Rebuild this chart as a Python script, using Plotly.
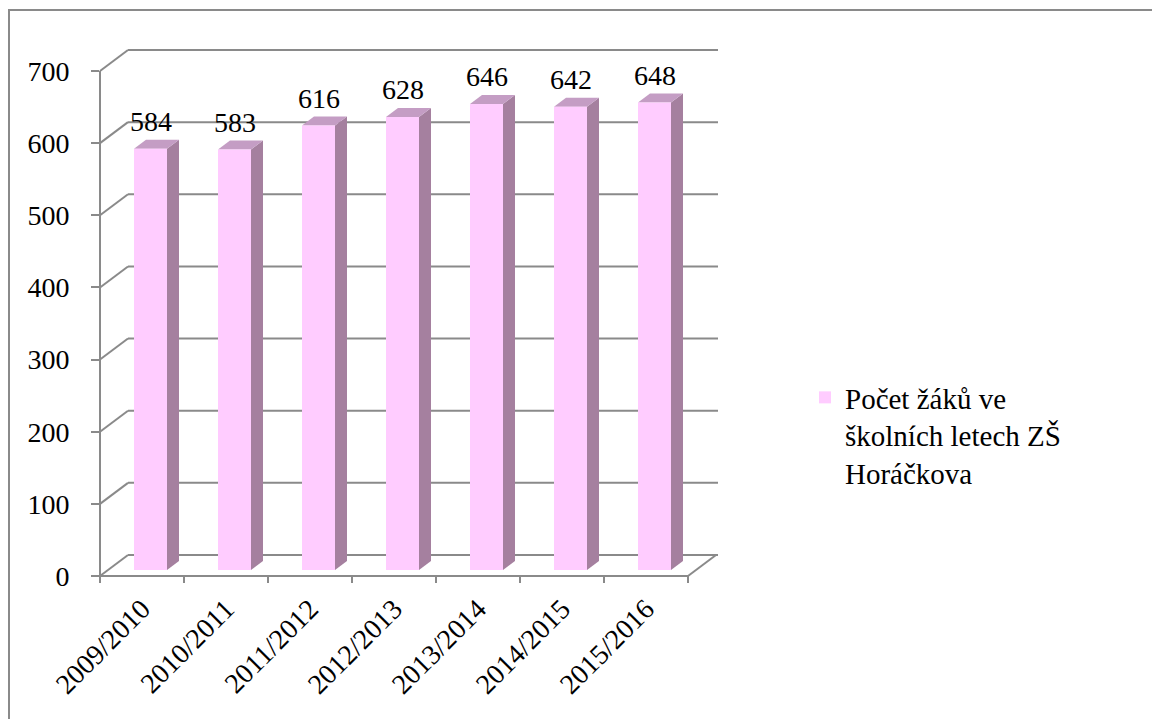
import plotly.graph_objects as go

# ---------------- data ----------------
categories = ["2009/2010", "2010/2011", "2011/2012", "2012/2013",
              "2013/2014", "2014/2015", "2015/2016"]
values = [584, 583, 616, 628, 646, 642, 648]
y_ticks = [0, 100, 200, 300, 400, 500, 600, 700]
series_name = "Počet žáků ve<br>školních letech ZŠ<br>Horáčkova"

# ---------------- geometry (pixels -> data units) ----------------
L, R, T, B = 100, 718, 50, 576          # plot area in pixels
PX_X = 84.0                              # px per category
PX_Y = 505.0 / 700.0                     # px per value unit
X_MAX = (R - L) / PX_X
Y_MAX = (B - T) / PX_Y
DEPTH_X, DEPTH_Y = 28 / PX_X, 21 / PX_Y  # depth of the 3D wall
BAR_OFF_X, BAR_OFF_Y = 8.5 / PX_X, 6 / PX_Y
BAR_W = 33 / PX_X
SIDE_X, SIDE_Y = 12 / PX_X, 9 / PX_Y
LABEL_GAP = 27 / PX_Y

GRID = "#8a8a8a"
FRONT = "#FFCCFF"
SIDE = "#A5809F"
TOP = "#C49DC4"
FONT = "Liberation Serif"

n = len(categories)
centers = [i + 0.5 for i in range(n)]
bar_x = [c + BAR_OFF_X for c in centers]


def px(xd):
    return xd / X_MAX


def py(yd):
    return yd / Y_MAX


shapes = []
line = dict(color=GRID, width=2)
# back wall gridlines + left diagonals
for t in y_ticks:
    shapes.append(dict(type="line", xref="paper", yref="paper", layer="below",
                       x0=px(DEPTH_X), y0=py(t + DEPTH_Y), x1=px(X_MAX), y1=py(t + DEPTH_Y),
                       line=line))
    shapes.append(dict(type="line", xref="paper", yref="paper", layer="below",
                       x0=px(0), y0=py(t), x1=px(DEPTH_X), y1=py(t + DEPTH_Y), line=line))
# right floor diagonal
shapes.append(dict(type="line", xref="paper", yref="paper", layer="below",
                   x0=px(n), y0=py(0), x1=px(n + DEPTH_X), y1=py(DEPTH_Y), line=line))
# front axes
shapes.append(dict(type="line", xref="paper", yref="paper", layer="below",
                   x0=px(0), y0=py(0), x1=px(n), y1=py(0), line=line))
shapes.append(dict(type="line", xref="paper", yref="paper", layer="below",
                   x0=px(0), y0=py(0), x1=px(0), y1=py(y_ticks[-1]), line=line))
# x ticks at category boundaries
for k in range(n + 1):
    shapes.append(dict(type="line", xref="paper", yref="paper", layer="below",
                       x0=px(k), y0=0, x1=px(k), y1=-7 / (B - T), line=line))

# 3D side and top faces of the bars
for xc, v in zip(bar_x, values):
    xl, xr = xc - BAR_W / 2, xc + BAR_W / 2
    b, t = BAR_OFF_Y, v + BAR_OFF_Y
    shapes.append(dict(type="path", xref="x", yref="y", layer="below",
                       path=f"M{xr},{b} L{xr + SIDE_X},{b + SIDE_Y} L{xr + SIDE_X},{t + SIDE_Y} L{xr},{t} Z",
                       fillcolor=SIDE, line=dict(width=0)))
    shapes.append(dict(type="path", xref="x", yref="y", layer="below",
                       path=f"M{xl},{t} L{xr},{t} L{xr + SIDE_X},{t + SIDE_Y} L{xl + SIDE_X},{t + SIDE_Y} Z",
                       fillcolor=TOP, line=dict(width=0)))

# outer chart border
shapes.append(dict(type="rect", xref="paper", yref="paper", layer="above",
                   x0=(9 - L) / (R - L), y0=(B - 740) / (B - T),
                   x1=(1170 - L) / (R - L), y1=(B - 10) / (B - T),
                   line=dict(color=GRID, width=2), fillcolor="rgba(0,0,0,0)"))

annotations = [dict(x=xc, y=v + BAR_OFF_Y + LABEL_GAP, xref="x", yref="y", text=str(v),
                    showarrow=False, yanchor="middle", xanchor="center",
                    font=dict(family=FONT, size=28, color="black"))
               for xc, v in zip(bar_x, values)]

fig = go.Figure()
fig.add_trace(go.Bar(x=bar_x, y=values, base=BAR_OFF_Y, width=BAR_W, name=series_name,
                     marker=dict(color=FRONT, line=dict(width=0)), showlegend=True,
                     hoverinfo="skip"))

fig.update_layout(
    width=1152, height=719,
    margin=dict(l=L, r=1152 - R, t=T, b=719 - B, pad=0),
    paper_bgcolor="white", plot_bgcolor="white",
    font=dict(family=FONT, size=28, color="black"),
    xaxis=dict(range=[0, X_MAX], tickvals=centers, ticktext=categories, tickangle=-45,
               ticks="", showgrid=False, zeroline=False, showline=False,
               ticklabelstandoff=10, fixedrange=True),
    yaxis=dict(range=[0, Y_MAX], tickvals=y_ticks, ticks="outside", ticklen=8, tickwidth=2,
               tickcolor=GRID, showgrid=False, zeroline=False, showline=False,
               ticklabelstandoff=16, fixedrange=True),
    showlegend=True,
    legend=dict(x=(805 - L) / (R - L), y=(B - 372) / (B - T), xanchor="left", yanchor="top",
                valign="top", font=dict(family=FONT, size=29, color="black"),
                bgcolor="rgba(0,0,0,0)"),
    shapes=shapes,
    annotations=annotations,
)

fig.write_html("out.html", config={"displayModeBar": False},
               post_script="document.body.style.margin='0';document.body.style.overflow='hidden';")
